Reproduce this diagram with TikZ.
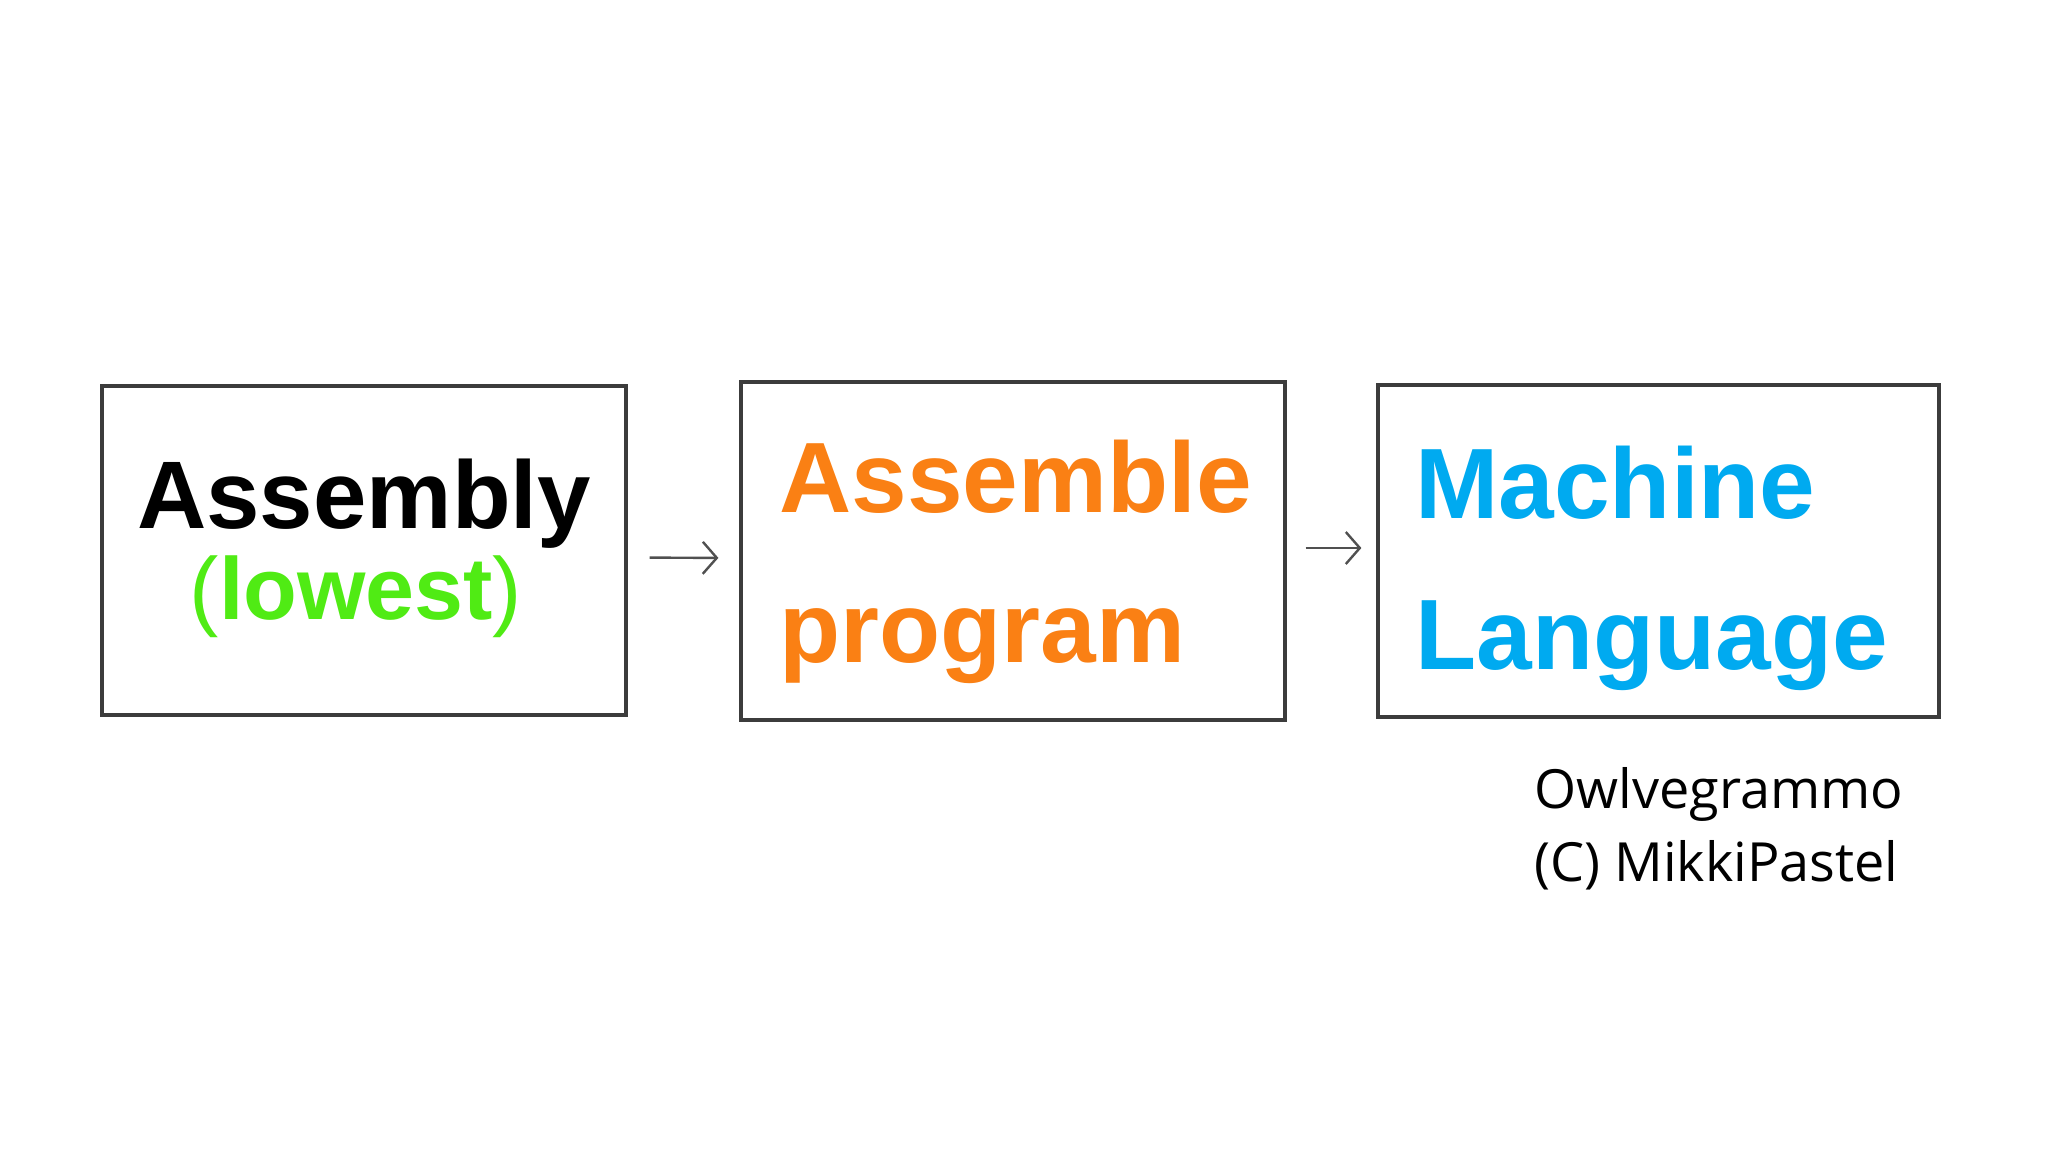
\documentclass[tikz,border=0pt]{standalone}
\usepackage{fontspec}
\setmainfont{Liberation Sans}
\newfontfamily\notefont{Open Sans}
\usetikzlibrary{arrows.meta}
\definecolor{boxline}{RGB}{60,60,60}
\definecolor{orangetxt}{RGB}{250,128,20}
\definecolor{greentxt}{RGB}{80,235,20}
\definecolor{bluetxt}{RGB}{0,170,240}
\tikzset{
  box/.style={draw=boxline, line width=1.6pt, rectangle, inner sep=0pt},
  flowarrow/.style={draw=boxline!90, line width=1.2pt, -{Straight Barb[length=7pt,width=16pt,line width=1.2pt]}},
  bigtxt/.style={font=\bfseries\fontsize{50}{60}\selectfont, anchor=base west, inner sep=0pt},
  notetxt/.style={font=\notefont\fontsize{27}{36}\selectfont, anchor=base west, inner sep=0pt}
}
\begin{document}
\begin{tikzpicture}[x=0.5pt,y=-0.5pt]
\useasboundingbox (0,0) rectangle (2045,1151);
\fill[white] (0,0) rectangle (2045,1151);
% boxes
\node[box, minimum width=262pt, minimum height=164.5pt] (b1) at (364,550.5) {};
\node[box, minimum width=272pt, minimum height=169pt] (b2) at (1013,551) {};
\node[box, minimum width=280.5pt, minimum height=166pt] (b3) at (1658.5,551) {};
% box 1 text
\node[font=\bfseries\fontsize{48}{58}\selectfont, anchor=base, inner sep=0pt] (t1) at (364,528) {Assembly};
\node[anchor=base, inner sep=0pt, text=greentxt] (t2) at (356,619) {\fontsize{44}{50}\selectfont(\textbf{lowest})};
% box 2 text
\node[bigtxt, text=orangetxt] (t3) at (779,512) {Assemble};
\node[bigtxt, text=orangetxt] (t4) at (779,662) {program};
% box 3 text
\node[bigtxt, text=bluetxt] (t5) at (1415,518) {Machine};
\node[bigtxt, text=bluetxt] (t6) at (1415,669) {Language};
% arrows
\draw[flowarrow, shorten <=11pt, shorten >=10.5pt] ([yshift=-3.5pt]b1.east) -- ([yshift=-3.5pt]b2.west);
\draw[flowarrow, shorten <=9.5pt, shorten >=7.5pt] ([yshift=1.5pt]b2.east) -- ([yshift=1.5pt]b3.west);
% note
\node[notetxt] (n1) at (1534,808) {Owlvegrammo};
\node[notetxt] (n2) at (1534,881) {(C) MikkiPastel};
\end{tikzpicture}
\end{document}
